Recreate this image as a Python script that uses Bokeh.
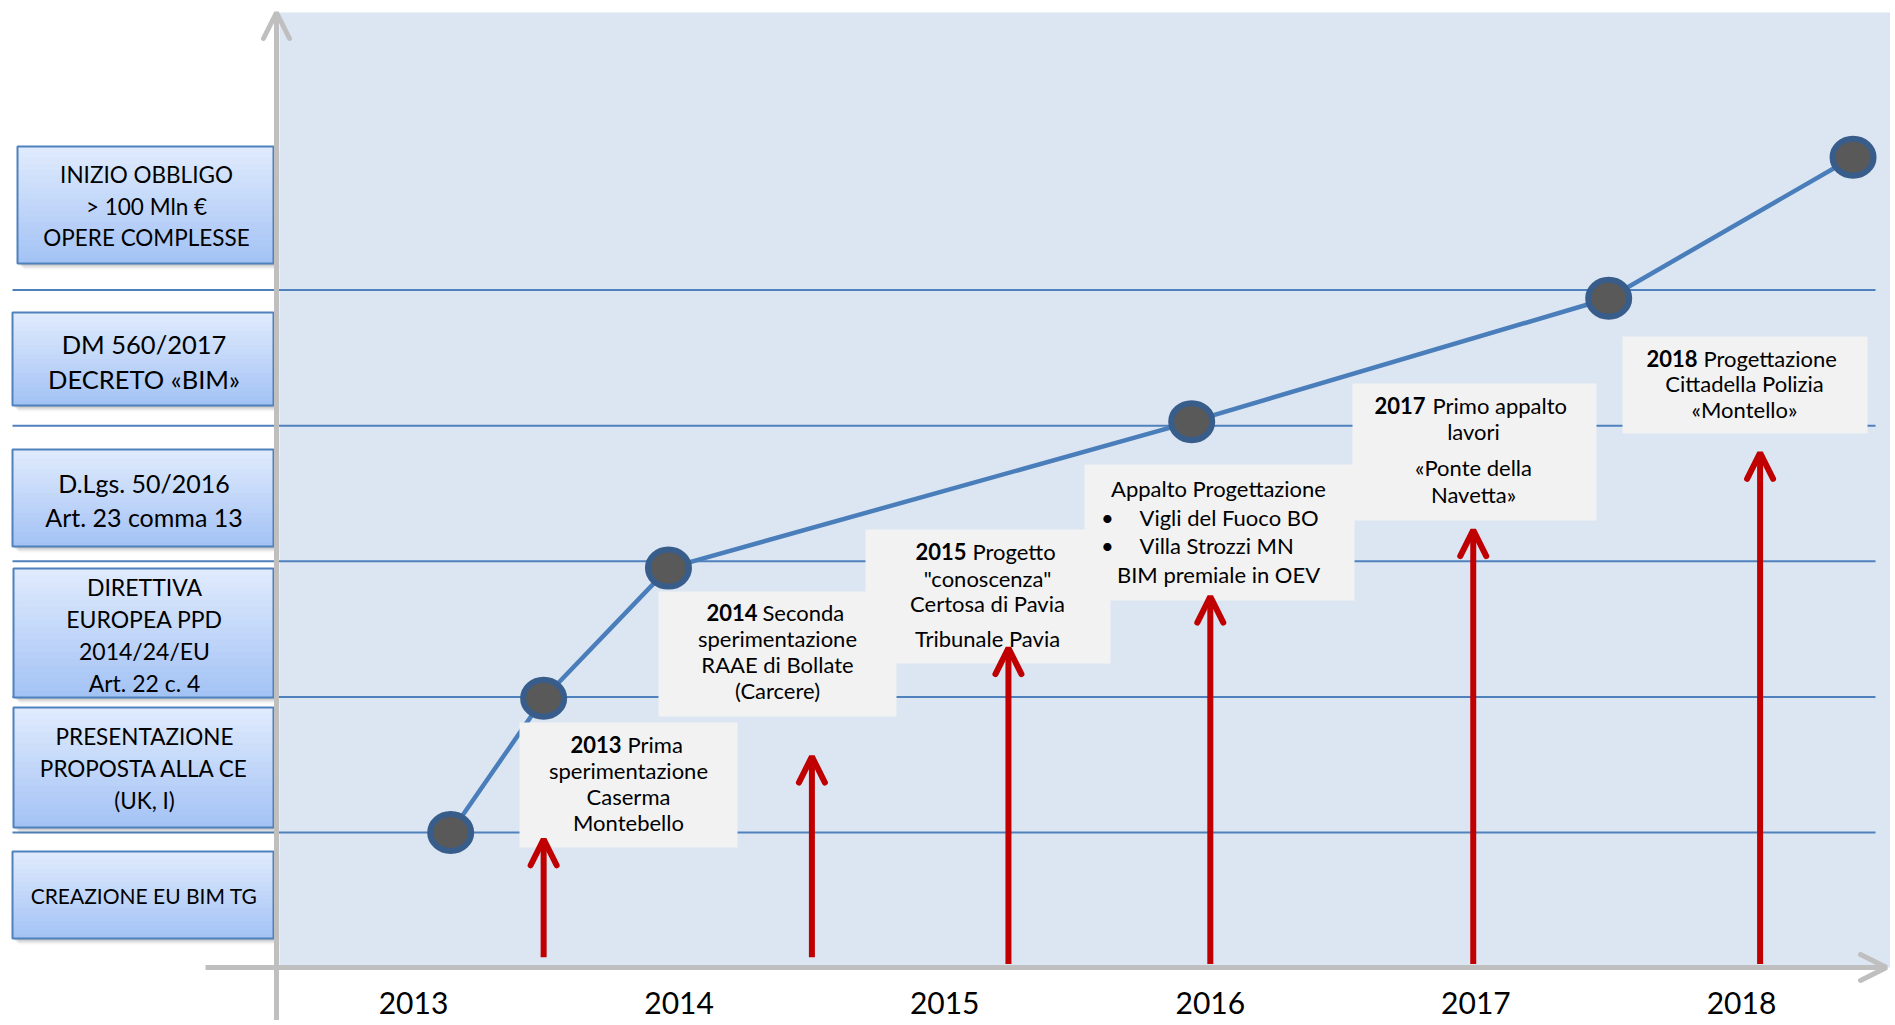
from bokeh.plotting import figure
from bokeh.models import ColumnDataSource, Arrow, OpenHead
from bokeh.core.properties import value
from bokeh.embed import file_html
from bokeh.resources import INLINE

# ------------------------------------------------------------------ data
year_ticks = [2013, 2014, 2015, 2016, 2017, 2018]
year_labels = ["2013", "2014", "2015", "2016", "2017", "2018"]

# BIM adoption milestones (x = time, y = regulatory level)
milestone_years = [2013.14, 2013.49, 2013.96, 2015.93, 2017.50, 2018.42]
milestone_levels = [0.0, 0.99, 1.95, 3.03, 3.94, 4.98]
level_lines = [0, 1, 2, 3, 4]

# red arrows: pilot projects
event_years = [2013.49, 2014.50, 2015.24, 2016.00, 2016.99, 2018.07]
event_tip_levels = [-0.05, 0.56, 1.36, 1.74, 2.23, 2.80]
event_base_levels = [-0.92, -0.92, -0.97, -0.97, -0.97, -0.97]

# regulation boxes on the left (bottom to top)
regulation_labels = [
    ["CREAZIONE EU BIM TG"],
    ["PRESENTAZIONE", "PROPOSTA ALLA CE", "(UK, I)"],
    ["DIRETTIVA", "EUROPEA PPD", "2014/24/EU", "Art. 22 c. 4"],
    ["D.Lgs. 50/2016", "Art. 23 comma 13"],
    ["DM 560/2017", "DECRETO «BIM»"],
    ["INIZIO OBBLIGO", "> 100 Mln €", "OPERE COMPLESSE"],
]

# event call-outs
event_bold = ["2013", "2014", "2015", "", "2017", "2018"]
event_head = ["Prima", "Seconda", "Progetto", "Appalto Progettazione", "Primo appalto", "Progettazione"]
event_lines = [
    ["sperimentazione", "Caserma", "Montebello"],
    ["sperimentazione", "RAAE di Bollate", "(Carcere)"],
    ["\"conoscenza\"", "Certosa di Pavia", "Tribunale Pavia"],
    ["Vigli del Fuoco BO", "Villa Strozzi MN", "BIM premiale in OEV"],
    ["lavori", "«Ponte della", "Navetta»"],
    ["Cittadella Polizia", "«Montello»"],
]
event_bullets = [[], [], [], [True, True, False], [], []]

# ------------------------------------------------------------------ layout
OFF = 0                          # page offset of the canvas
W, H = 1890, 1020
X0PX, XSCALE = 413.0, 265.6      # page px of 2013, px per year
Y0PX, YSCALE = 832.0, 135.6      # page px of level 0, px per level


def px(page_x):
    return 2013 + (page_x - X0PX) / XSCALE


def py(page_y):
    return (Y0PX - page_y) / YSCALE


p = figure(width=W, height=H, output_backend="svg", toolbar_location=None,
           x_range=(px(OFF), px(OFF + W)), y_range=(py(OFF + H), py(OFF)),
           x_axis_type=None, y_axis_type=None, min_border=0,
           outline_line_color=None, background_fill_color="white")
p.grid.visible = False

FONT = value("Lato")

# light blue panel
p.quad(left=[px(279)], right=[px(1900)], top=[py(12)], bottom=[py(967)],
       fill_color="#dce6f2", line_color=None)

# level lines
p.segment(x0=[px(12)] * len(level_lines), x1=[px(1875)] * len(level_lines),
          y0=level_lines, y1=level_lines, line_color="#4f81bd", line_width=2)

# axes (grey arrows)
axis_src = ColumnDataSource(dict(xs=[px(276), px(205)], ys=[py(1030), py(967)],
                                 xe=[px(276), px(1886)], ye=[py(12), py(967)]))
p.add_layout(Arrow(x_start="xs", y_start="ys", x_end="xe", y_end="ye", source=axis_src,
                   line_color="#bfbfbf", line_width=5,
                   end=OpenHead(size=26, line_color="#bfbfbf", line_width=5, line_cap="round")))

# year labels
p.text(x=year_ticks, y=[py(1002)] * len(year_ticks), text=year_labels,
       text_font=FONT, text_font_size="30px", text_align="center",
       text_baseline="middle", text_color="#000000")

# ---- left regulation boxes
left_layout = [
    dict(x=(12, 273), y=(851, 938), lines=[895], size="21px"),
    dict(x=(13, 273), y=(707, 827), lines=[736, 768, 800], size="22.5px"),
    dict(x=(13, 273), y=(568, 697), lines=[586, 618, 650, 682], size="23px"),
    dict(x=(12, 273), y=(449, 546), lines=[482, 516], size="25px"),
    dict(x=(12, 273), y=(312, 405), lines=[343, 378], size="25.5px"),
    dict(x=(17, 273), y=(146, 263), lines=[174, 206, 237], size="22.5px"),
]
top_rgb = (223, 234, 253)
bot_rgb = (164, 195, 245)
NSTRIP = 20
for lab, lay in zip(regulation_labels, left_layout):
    x0, x1 = lay["x"]
    y0, y1 = lay["y"]
    # shadow
    for off, a in ((2, 0.18), (4, 0.12), (6, 0.06)):
        p.quad(left=[px(x0 + off)], right=[px(x1 + off)], top=[py(y0 + off)],
               bottom=[py(y1 + off)], fill_color="#404040", fill_alpha=a, line_color=None)
    # gradient
    lefts, rights, tops, bottoms, cols = [], [], [], [], []
    for i in range(NSTRIP):
        t = i / (NSTRIP - 1)
        c = tuple(int(round(top_rgb[k] + (bot_rgb[k] - top_rgb[k]) * t)) for k in range(3))
        ya = y0 + (y1 - y0) * i / NSTRIP
        yb = y0 + (y1 - y0) * (i + 1) / NSTRIP + 0.6
        lefts.append(px(x0)); rights.append(px(x1))
        tops.append(py(ya)); bottoms.append(py(yb))
        cols.append("#%02x%02x%02x" % c)
    p.quad(left=lefts, right=rights, top=tops, bottom=bottoms, fill_color=cols, line_color=None)
    p.quad(left=[px(x0)], right=[px(x1)], top=[py(y0)], bottom=[py(y1)],
           fill_color=None, line_color="#4f81bd", line_width=2)
    cx = (x0 + x1) / 2 + 1
    p.text(x=[px(cx)] * len(lab), y=[py(v) for v in lay["lines"]], text=lab,
           text_font=FONT, text_font_size=lay["size"], text_align="center",
           text_baseline="middle", text_color="#000000")

# ---- trend line + milestones
p.line(milestone_years, milestone_levels, line_color="#4a7ebb", line_width=4.5)

# ---- event call-out boxes
ev_layout = [
    dict(x=(519, 737), y=(722, 847), cx=628, split=(621, 627), ys=[744, 770, 796, 822]),
    dict(x=(658, 896), y=(591, 716), cx=777, split=(757, 762), ys=[612, 638, 664, 690]),
    dict(x=(865, 1110), y=(529, 663), cx=987, split=(966, 972), ys=[551, 578, 603, 638]),
    dict(x=(1084, 1354), y=(464, 600), cx=1218, split=None, ys=[488, 517, 545, 574],
         bullet_x=1107, text_x=1139),
    dict(x=(1352, 1596), y=(383, 520), cx=1473, split=(1425, 1432), ys=[405, 431, 467, 494]),
    dict(x=(1622, 1867), y=(336, 433), cx=1744, split=(1697, 1703), ys=[358, 383, 409]),
]
p.quad(left=[px(l["x"][0]) for l in ev_layout], right=[px(l["x"][1]) for l in ev_layout],
       top=[py(l["y"][0]) for l in ev_layout], bottom=[py(l["y"][1]) for l in ev_layout],
       fill_color="#f2f2f2", line_color=None)

for b, head, rest, bul, lay in zip(event_bold, event_head, event_lines, event_bullets, ev_layout):
    ys = lay["ys"]
    if lay["split"] is not None:
        p.text(x=[px(lay["split"][0])], y=[py(ys[0])], text=[b], text_font=FONT,
               text_font_size="22px", text_font_style="bold", text_align="right",
               text_baseline="middle", text_color="#000000")
        p.text(x=[px(lay["split"][1])], y=[py(ys[0])], text=[head], text_font=FONT,
               text_font_size="22px", text_align="left",
               text_baseline="middle", text_color="#000000")
    else:
        p.text(x=[px(lay["cx"])], y=[py(ys[0])], text=[head], text_font=FONT,
               text_font_size="22px", text_align="center",
               text_baseline="middle", text_color="#000000")
    for i, t in enumerate(rest):
        yy = py(ys[i + 1])
        if bul and bul[i]:
            p.text(x=[px(lay["bullet_x"])], y=[yy], text=["•"], text_font=FONT,
                   text_font_size="22px", text_align="center",
                   text_baseline="middle", text_color="#000000")
            p.text(x=[px(lay["text_x"])], y=[yy], text=[t], text_font=FONT,
                   text_font_size="22px", text_align="left",
                   text_baseline="middle", text_color="#000000")
        else:
            p.text(x=[px(lay["cx"])], y=[yy], text=[t], text_font=FONT,
                   text_font_size="22px", text_align="center",
                   text_baseline="middle", text_color="#000000")

# milestone markers
p.ellipse(x=milestone_years, y=milestone_levels, width=41, height=37,
          width_units="screen", height_units="screen",
          fill_color="#595959", line_color="#385d8a", line_width=6)

# red arrows
ev_src = ColumnDataSource(dict(x=event_years, base=event_base_levels, tip=event_tip_levels))
p.add_layout(Arrow(x_start="x", y_start="base", x_end="x", y_end="tip", source=ev_src,
                   line_color="#c00000", line_width=6,
                   end=OpenHead(size=26, line_color="#c00000", line_width=6, line_cap="round")))

open("out.html", "w").write(file_html(p, INLINE))
